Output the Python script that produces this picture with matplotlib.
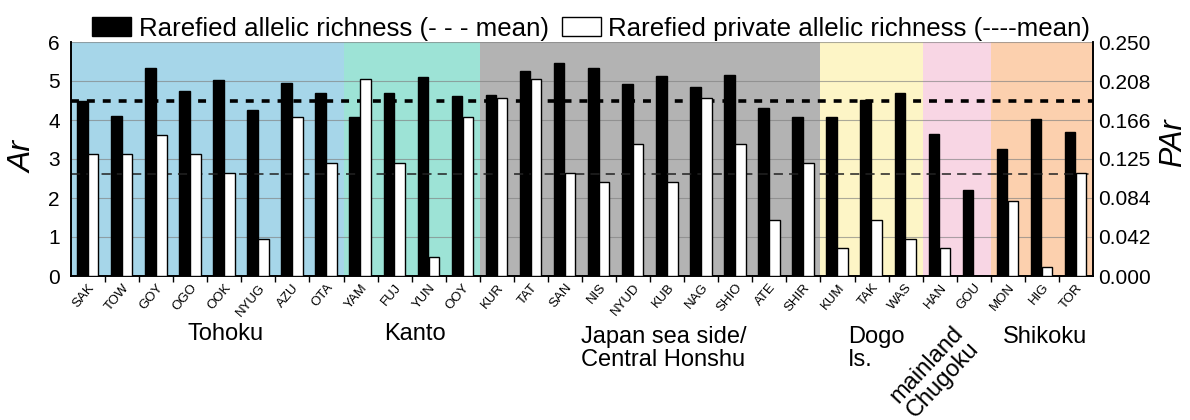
import numpy as np
import matplotlib.pyplot as plt
from matplotlib.patches import Patch

plt.rcParams['font.family'] = ['Liberation Sans', 'DejaVu Sans']

# Populations, rarefied allelic richness (Ar) and private allelic richness (PAr)
pops = ['SAK', 'TOW', 'GOY', 'OGO', 'OOK', 'NYUG', 'AZU', 'OTA',
        'YAM', 'FUJ', 'YUN', 'OOY',
        'KUR', 'TAT', 'SAN', 'NIS', 'NYUD', 'KUB', 'NAG', 'SHIO', 'ATE', 'SHIR',
        'KUM', 'TAK', 'WAS',
        'HAN', 'GOU',
        'MON', 'HIG', 'TOR']
ar = [4.50, 4.09, 5.33, 4.75, 5.02, 4.25, 4.95, 4.68,
      4.07, 4.70, 5.11, 4.61,
      4.65, 5.26, 5.45, 5.33, 4.93, 5.13, 4.84, 5.15, 4.32, 4.07,
      4.07, 4.52, 4.70,
      3.64, 2.20,
      3.25, 4.03, 3.69]
par = [0.130, 0.130, 0.151, 0.130, 0.110, 0.040, 0.170, 0.121,
       0.210, 0.121, 0.020, 0.170,
       0.190, 0.210, 0.110, 0.100, 0.141, 0.100, 0.190, 0.141, 0.060, 0.121,
       0.030, 0.060, 0.040,
       0.030, 0.000,
       0.080, 0.010, 0.110]
ar_mean = 4.50
par_mean = 0.109

region_sizes = [8, 4, 10, 3, 2, 3]
region_colors = ['#a6d6e9', '#9de3d6', '#b3b3b3', '#fdf5c6', '#f8d6e4', '#fcd0ae']

ar_ticks = [0, 1, 2, 3, 4, 5, 6]
par_ticks = [0.000, 0.042, 0.084, 0.125, 0.166, 0.208, 0.250]

x = np.arange(len(pops))

fig = plt.figure(figsize=(11.9, 4.2), dpi=100)
ax = fig.add_axes([71 / 1190, 1 - 276 / 420, 1022 / 1190, 234 / 420])
ax2 = ax.twinx()

# region backgrounds
start = -0.5
for n, col in zip(region_sizes, region_colors):
    ax.axvspan(start, start + n, color=col, lw=0, zorder=0)
    start += n

ax.set_ylim(0, 6)
ax.set_xlim(-0.5, len(pops) - 0.5)
ax.set_yticks(ar_ticks)
ax.grid(axis='y', color='#808080', lw=0.8, alpha=0.65, zorder=1)
ax.set_axisbelow(True)

ax.axhline(ar_mean, color='black', lw=2.6, ls=(0, (2.2, 2.2)), zorder=2)
ax.bar(x - 0.17, ar, width=0.31, color='black', edgecolor='black', lw=1, zorder=3)

ax2.set_ylim(0, 0.25)
ax2.set_yticks(par_ticks)
ax2.set_yticklabels([f'{t:.3f}' for t in par_ticks])
ax2.axhline(par_mean, color='#222222', lw=1.1, ls=(0, (6, 4)), zorder=1)
ax2.bar(x + 0.15, par, width=0.31, color='white', edgecolor='black', lw=1, zorder=3)

# category ticks between populations
ax.set_xticks(x)
ax.set_xticklabels(pops, rotation=50, ha='right', rotation_mode='anchor', fontsize=9.5)
ax.set_xticks(np.arange(0.5, len(pops) - 1, 1.0), minor=True)
ax.tick_params(axis='x', which='major', length=0, pad=4)
ax.tick_params(axis='x', which='minor', length=4, width=1, direction='out')
ax.tick_params(axis='y', length=0, labelsize=15, pad=8)
ax2.tick_params(axis='y', length=0, labelsize=15, pad=4)

for a in (ax, ax2):
    a.spines['top'].set_visible(False)
    for s in ('left', 'right', 'bottom'):
        a.spines[s].set_linewidth(1.2)

ax.text(-0.046, 0.51, 'Ar', transform=ax.transAxes, rotation=90, ha='center',
        va='center', fontsize=23, style='italic')
ax.text(1.078, 0.57, 'PAr', transform=ax.transAxes, rotation=90, ha='center',
        va='center', fontsize=22, style='italic')

# region names under the population labels
tr = ax.get_xaxis_transform()
ax.text(4.05, -0.25, 'Tohoku', transform=tr, ha='center', va='center', fontsize=17)
ax.text(9.6, -0.25, 'Kanto', transform=tr, ha='center', va='center', fontsize=17)
ax.text(16.9, -0.31, 'Japan sea side/\nCentral Honshu', transform=tr, ha='center',
        va='center', multialignment='left', fontsize=17, linespacing=1.1)
ax.text(22.3, -0.31, 'Dogo\nIs.', transform=tr, ha='left', va='center',
        fontsize=17, linespacing=1.1)
ax.text(24.85, -0.41, 'mainland\nChugoku', transform=tr, ha='center', va='center',
        rotation=47, rotation_mode='anchor', fontsize=17, linespacing=1.0)
ax.text(28.1, -0.26, 'Shikoku', transform=tr, ha='center', va='center', fontsize=17)

handles = [Patch(facecolor='black', edgecolor='black'),
           Patch(facecolor='white', edgecolor='black')]
labels = ['Rarefied allelic richness (- - - mean)',
          'Rarefied private allelic richness (----mean)']
fig.legend(handles, labels, loc='center', bbox_to_anchor=(0.497, 0.932), ncol=2,
           frameon=False, fontsize=18.6, handlelength=1.5, handleheight=0.8,
           handletextpad=0.3, columnspacing=0.5, borderpad=0, borderaxespad=0)

fig.savefig('out.png', dpi=100)
